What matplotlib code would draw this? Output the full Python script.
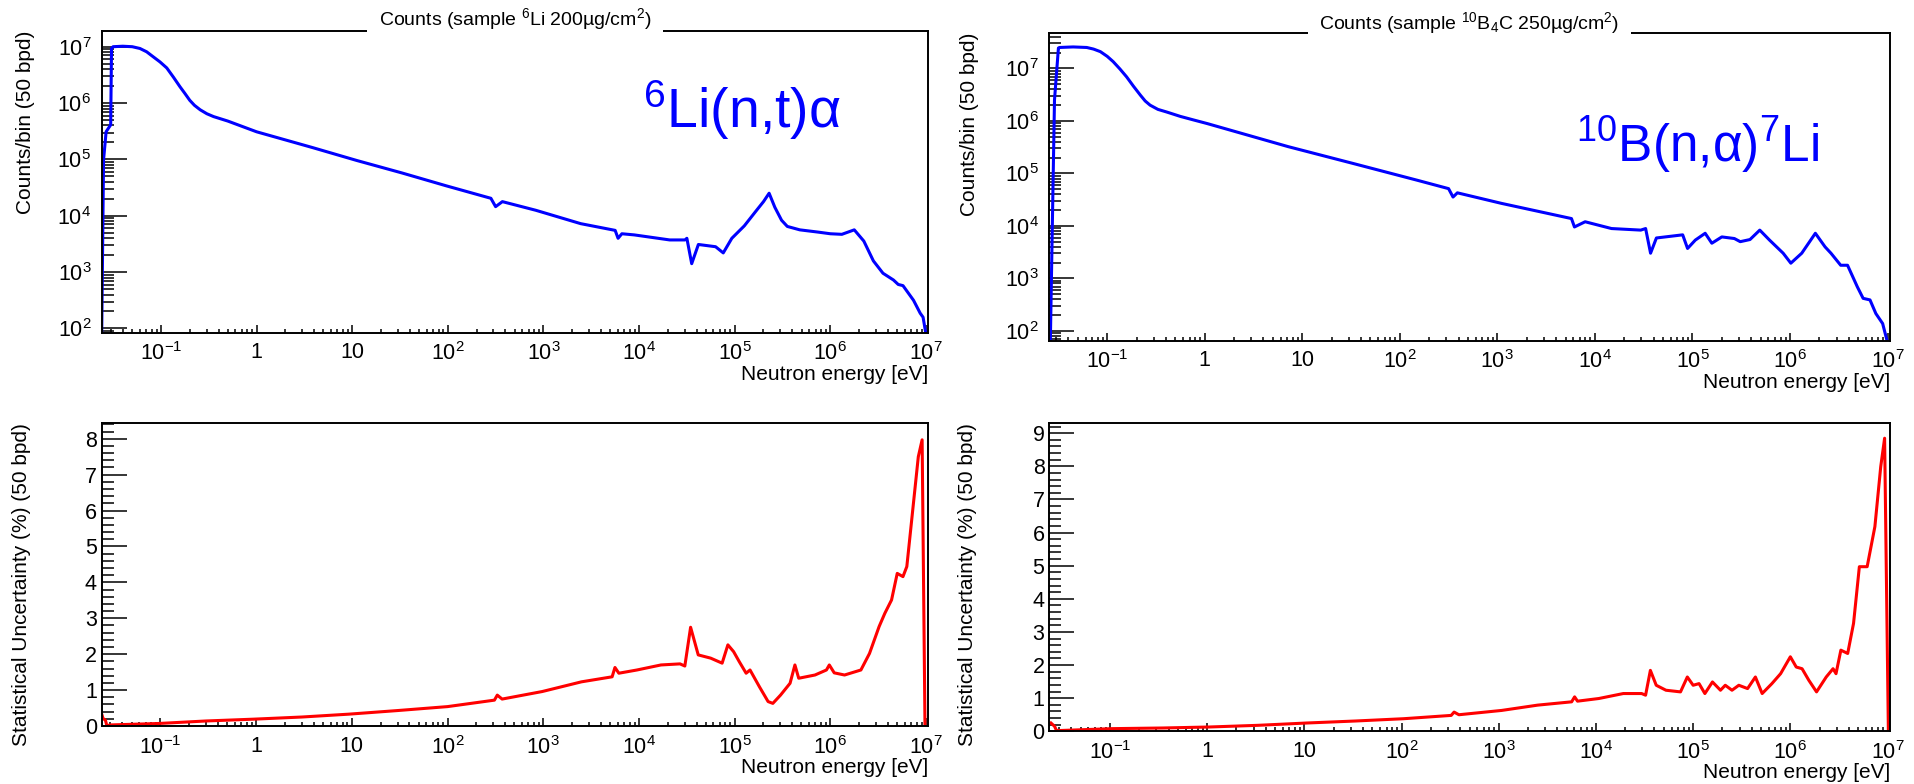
import numpy as np
import matplotlib.pyplot as plt
from matplotlib.ticker import FixedLocator, MultipleLocator, FuncFormatter, NullFormatter

plt.rcParams['font.family'] = ['Liberation Sans', 'DejaVu Sans']
plt.rcParams['mathtext.default'] = 'regular'
plt.rcParams['axes.unicode_minus'] = False

# ---- 6Li sample (200 ug/cm2) ----
li_energy = [0.0240, 0.0251, 0.0267, 0.0298, 0.0304, 0.0316, 0.0398, 0.0501, 0.0603,
             0.0708, 0.0832, 0.0977, 0.115, 0.135, 0.158, 0.178, 0.200, 0.224, 0.257,
             0.302, 0.355, 0.50, 1.0, 3.85, 11.2, 33.1, 96.6,
             282, 316, 372, 832, 2450, 5620, 6030, 6610, 8910, 2.09e4, 3.02e4,
             3.16e4, 3.55e4, 4.17e4, 6.31e4, 7.59e4, 9.33e4, 1.26e5, 1.70e5, 2.0e5,
             2.29e5, 2.63e5, 3.09e5, 3.55e5, 4.79e5, 7.41e5, 1.0e6, 1.32e6, 1.78e6,
             2.24e6, 2.82e6, 3.55e6, 4.57e6, 5.13e6, 5.75e6, 7.41e6, 8.71e6, 9.33e6,
             1.0e7]
li_counts = [79, 9.8e4, 3.1e5, 4.1e5, 9.3e6, 1.0e7, 1.02e7, 1.0e7, 9.3e6,
             8.13e6, 6.6e6, 5.37e6, 4.2e6, 2.88e6, 1.95e6, 1.48e6, 1.12e6, 9.12e5, 7.6e5,
             6.46e5, 5.75e5, 4.79e5, 3.09e5, 1.62e5, 9.55e4, 5.75e4, 3.39e4,
             2.04e4, 1.45e4, 1.78e4, 1.25e4, 7240, 5500, 3980, 4790, 4570, 3720, 3720,
             3980, 1410, 3090, 2820, 2190, 3980, 6610, 1.26e4, 1.78e4,
             2.51e4, 1.41e4, 8320, 6460, 5620, 5130, 4790, 4680, 5620,
             3550, 1580, 955, 724, 603, 575, 316, 186, 158,
             79]

li_unc_energy = [0.0240, 0.0251, 0.0266, 0.0275, 0.0302, 0.0955, 0.30, 0.933, 3.0, 9.33,
                 30, 100, 309, 331, 372, 977, 2510, 5250, 5620, 6170, 9550, 1.70e4, 2.69e4,
                 3.02e4, 3.47e4, 4.17e4, 5.62e4, 7.41e4, 8.51e4, 9.77e4, 1.12e5, 1.32e5,
                 1.45e5, 1.82e5, 2.24e5, 2.51e5, 3.02e5, 3.80e5, 4.27e5, 4.68e5, 6.92e5,
                 9.12e5, 9.77e5, 1.10e6, 1.41e6, 2.09e6, 2.57e6, 3.24e6, 3.72e6, 4.37e6,
                 5.01e6, 5.75e6, 6.31e6, 8.32e6, 9.12e6, 9.77e6]
li_unc = [0.38, 0.21, 0.16, 0.01, 0.03, 0.07, 0.14, 0.19, 0.25, 0.33,
          0.43, 0.54, 0.72, 0.86, 0.75, 0.96, 1.23, 1.37, 1.63, 1.47, 1.56, 1.70, 1.73,
          1.67, 2.75, 1.98, 1.89, 1.75, 2.26, 2.07, 1.79, 1.47,
          1.56, 1.09, 0.68, 0.63, 0.86, 1.19, 1.70, 1.33, 1.42,
          1.56, 1.70, 1.48, 1.42, 1.56, 2.02, 2.77, 3.14, 3.51,
          4.25, 4.16, 4.44, 7.50, 7.97, 0.0]

# ---- 10B4C sample (250 ug/cm2) ----
b_energy = [0.0261, 0.0288, 0.0316, 0.0324, 0.0447, 0.0617, 0.0724, 0.0851, 0.100,
            0.115, 0.135, 0.158, 0.186, 0.219, 0.245, 0.275, 0.331, 0.407, 0.562,
            0.759, 1.06, 7.16, 33.1, 151, 316, 351, 389, 1100,
            3240, 5750, 6170, 7940, 1.48e4, 2.95e4, 3.31e4, 3.72e4, 4.27e4, 7.94e4,
            8.91e4, 1.07e5, 1.35e5, 1.58e5, 2.0e5, 2.69e5, 3.09e5, 3.89e5, 4.90e5,
            6.17e5, 8.51e5, 1.02e6, 1.32e6, 1.82e6, 2.29e6, 2.63e6, 3.31e6, 3.89e6,
            4.90e6, 5.62e6, 6.61e6, 7.59e6, 8.91e6, 1.0e7]
b_counts = [60, 2.51e6, 2.45e7, 2.51e7, 2.57e7, 2.51e7, 2.34e7, 2.09e7, 1.70e7,
            1.35e7, 9.77e6, 6.92e6, 4.57e6, 3.09e6, 2.40e6, 2.0e6, 1.66e6, 1.48e6, 1.22e6,
            1.05e6, 8.91e5, 3.24e5, 1.55e5, 7.41e4, 5.13e4, 3.55e4, 4.27e4, 2.69e4,
            1.74e4, 1.38e4, 9550, 1.20e4, 8910, 8320, 8910, 3020, 5890, 6760,
            3720, 5370, 7240, 4680, 6170, 5750, 5010, 5500, 8320,
            5370, 3020, 1950, 3020, 7240, 3980, 3020, 1780, 1780,
            692, 417, 389, 214, 138, 60]

b_unc_energy = [0.0247, 0.0269, 0.0282, 0.105, 0.35, 1.05, 3.3, 10.5, 33, 105, 324, 347, 389,
                1070, 2510, 5620, 6030, 6460, 1.07e4, 1.91e4, 2.95e4, 3.24e4, 3.63e4,
                4.17e4, 5.25e4, 7.41e4, 8.71e4, 1.0e5, 1.15e5, 1.32e5, 1.58e5, 1.91e5,
                2.14e5, 2.51e5, 2.95e5, 3.63e5, 4.37e5, 5.13e5, 6.46e5, 7.94e5, 1.0e6,
                1.15e6, 1.32e6, 1.55e6, 1.86e6, 2.34e6, 2.75e6, 2.95e6, 3.31e6, 3.89e6,
                4.47e6, 5.13e6, 6.17e6, 7.41e6, 8.51e6, 9.33e6, 1.02e7]
b_unc = [0.25, 0.15, 0.02, 0.08, 0.10, 0.13, 0.18, 0.25, 0.31, 0.38, 0.48, 0.58, 0.50,
         0.63, 0.79, 0.89, 1.04, 0.91, 0.99, 1.14, 1.14, 1.09, 1.84,
         1.39, 1.24, 1.19, 1.64, 1.39, 1.44, 1.14, 1.49, 1.24,
         1.39, 1.24, 1.39, 1.29, 1.64, 1.14, 1.44, 1.74, 2.25,
         1.94, 1.89, 1.54, 1.19, 1.64, 1.89, 1.74, 2.45, 2.35,
         3.26, 4.97, 4.97, 6.18, 7.99, 8.85, 0.0]

# decade exponents that get a labelled tick
energy_decades = [-1, 0, 1, 2, 3, 4, 5, 6, 7]
count_decades = [2, 3, 4, 5, 6, 7]


def energy_label(v, pos):
    k = int(round(np.log10(v)))
    if k == 0:
        return '1'
    if k == 1:
        return '10'
    return r'$10^{%d}$' % k


def power_label(v, pos):
    return r'$10^{%d}$' % int(round(np.log10(v)))


def decade_ticks(decades, lo, hi):
    major = [10.0 ** k for k in decades]
    minor = [m * 10.0 ** k for k in range(decades[0] - 1, decades[-1] + 1)
             for m in range(2, 10)]
    minor = [v for v in minor if lo <= v <= hi]
    return major, minor


def style_axes(ax, logy, ylab, ypad, label_x):
    ax.set_xscale('log')
    lo, hi = ax.get_xlim()
    major, minor = decade_ticks(energy_decades, lo, hi)
    ax.xaxis.set_major_locator(FixedLocator(major))
    ax.xaxis.set_minor_locator(FixedLocator(minor))
    ax.xaxis.set_major_formatter(FuncFormatter(energy_label))
    ax.xaxis.set_minor_formatter(NullFormatter())
    if logy:
        ax.set_yscale('log')
        lo, hi = ax.get_ylim()
        major, minor = decade_ticks(count_decades, lo, hi)
        ax.yaxis.set_major_locator(FixedLocator(major))
        ax.yaxis.set_minor_locator(FixedLocator(minor))
        ax.yaxis.set_major_formatter(FuncFormatter(power_label))
        ax.yaxis.set_minor_formatter(NullFormatter())
    else:
        ax.yaxis.set_major_locator(MultipleLocator(1))
        ax.yaxis.set_minor_locator(MultipleLocator(0.2))
    ax.tick_params(axis='x', which='major', direction='in', length=6, width=1.1,
                   labelsize=15.5, pad=7, top=False)
    ax.tick_params(axis='x', which='minor', direction='in', length=3, width=1.1, top=False)
    ax.tick_params(axis='y', which='major', direction='in', length=18, width=1.1,
                   labelsize=15.5, pad=ypad, right=False)
    ax.tick_params(axis='y', which='minor', direction='in', length=8.5, width=1.1, right=False)
    for s in ax.spines.values():
        s.set_linewidth(1.4)

    ax.set_xlabel('Neutron energy [eV]', fontsize=15, loc='right')
    h = ax.get_position().height * 784
    ax.xaxis.set_label_coords(1.0, -32.0 / h)
    ax.xaxis.label.set_verticalalignment('top')

    ax.set_ylabel(ylab, fontsize=15, loc='top')
    ax.yaxis.set_label_coords(label_x, 1.0)


fig = plt.figure(figsize=(19.14, 7.84), dpi=100)

ax_li = fig.add_axes([0.05313, 0.57564, 0.43171, 0.38482])
ax_li_unc = fig.add_axes([0.05313, 0.07398, 0.43171, 0.38610])
ax_b = fig.add_axes([0.54807, 0.56543, 0.43939, 0.39286])
ax_b_unc = fig.add_axes([0.54828, 0.06722, 0.43918, 0.39286])

# counts spectra
ax_li.plot(li_energy, li_counts, color='#0000ff', lw=2.2)
ax_li.set_xscale('log')
ax_li.set_yscale('log')
ax_li.set_xlim(0.0240, 1.05e7)
ax_li.set_ylim(84, 1.9e7)
style_axes(ax_li, True, 'Counts/bin (50 bpd)', 7.5, -0.0807)

ax_b.plot(b_energy, b_counts, color='#0000ff', lw=2.2)
ax_b.set_xscale('log')
ax_b.set_yscale('log')
ax_b.set_xlim(0.0253, 1.06e7)
ax_b.set_ylim(65, 4.8e7)
style_axes(ax_b, True, 'Counts/bin (50 bpd)', 7.5, -0.0832)

# statistical uncertainty
ax_li_unc.plot(li_unc_energy, li_unc, color='#ff0000', lw=2.2)
ax_li_unc.set_xscale('log')
ax_li_unc.set_xlim(0.0243, 1.05e7)
ax_li_unc.set_ylim(0, 8.43)
style_axes(ax_li_unc, False, 'Statistical Uncertainty (%) (50 bpd)', 3.5, -0.0855)

ax_b_unc.plot(b_unc_energy, b_unc, color='#ff0000', lw=2.2)
ax_b_unc.set_xscale('log')
ax_b_unc.set_xlim(0.0238, 1.06e7)
ax_b_unc.set_ylim(0, 9.3)
style_axes(ax_b_unc, False, 'Statistical Uncertainty (%) (50 bpd)', 3.5, -0.0865)

# titles sit in a white box that breaks the top frame line
title_box = dict(boxstyle='square,pad=0.6', facecolor='white', edgecolor='none')
ax_li.text(0.5, 1.0199, r'Counts (sample $^{6}$Li 200µg/cm$^{2}$)', transform=ax_li.transAxes,
           ha='center', va='baseline', fontsize=14, bbox=title_box, zorder=10, clip_on=False)
ax_b.text(0.5, 1.011, r'Counts (sample $^{10}$B$_{4}$C 250µg/cm$^{2}$)', transform=ax_b.transAxes,
          ha='center', va='baseline', fontsize=14, bbox=title_box, zorder=10, clip_on=False)

# reaction labels
ax_li.text(0.655, 0.6785, r'$^{6}$Li(n,t)α', transform=ax_li.transAxes,
           ha='left', va='baseline', fontsize=40, color='#0000ff')
ax_b.text(0.6266, 0.580, r'$^{10}$B(n,α)$^{7}$Li', transform=ax_b.transAxes,
          ha='left', va='baseline', fontsize=37, color='#0000ff')

fig.savefig('out.png', dpi=100)
